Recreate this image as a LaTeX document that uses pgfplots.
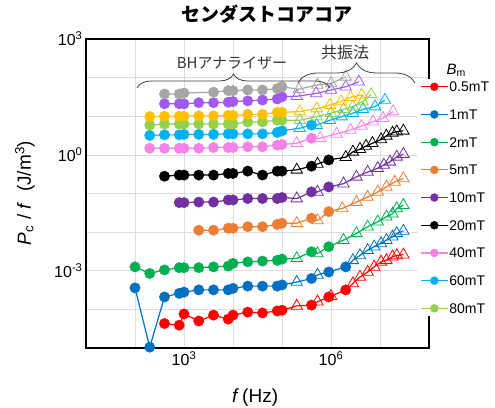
\documentclass[border=0pt]{standalone}
\usepackage{fontspec}
\setmainfont{Liberation Sans}
\newfontfamily\cjk{Noto Sans CJK JP}
\usepackage{pgfplots}
\pgfplotsset{compat=1.18}
\usetikzlibrary{decorations.pathreplacing}
\definecolor{cRed}{RGB}{255,0,0}
\definecolor{cBlue}{RGB}{0,112,192}
\definecolor{cGreen}{RGB}{0,176,80}
\definecolor{cOrange}{RGB}{237,125,49}
\definecolor{cPurple}{RGB}{112,48,160}
\definecolor{cBlack}{RGB}{0,0,0}
\definecolor{cPink}{RGB}{245,130,230}
\definecolor{cCyan}{RGB}{0,176,240}
\definecolor{cLgreen}{RGB}{146,208,80}
\definecolor{cGold}{RGB}{255,192,0}
\definecolor{cViolet}{RGB}{160,90,240}
\definecolor{cGray}{RGB}{166,166,166}
\pgfplotsset{
  ser/.style={color=#1, line width=1.2pt, forget plot, scatter, point meta=explicit symbolic,
    scatter/classes={
      c={mark=*, mark size=5.2pt, draw=#1, fill=#1, line width=0.4pt},
      t={mark=triangle, mark size=6.6pt, draw=#1, fill=white, line width=0.8pt}}},
  legimg/.style={color=#1, line width=1.2pt, mark=*, mark size=4pt, mark options={fill=#1, draw=#1, line width=0.4pt}},
}
\begin{document}
\begin{tikzpicture}
\path[use as bounding box] (-86pt,-59pt) rectangle (409pt,348pt);
\begin{axis}[at={(0pt,0pt)}, anchor=south west, scale only axis, width=343pt, height=309pt,
  xmode=log, ymode=log, xmin=10, xmax=1e8, ymin=1e-5, ymax=1e3,
  xtick={1e1,1e2,1e3,1e4,1e5,1e6,1e7,1e8},
  xticklabels={{},{},{10\textsuperscript{3}},{},{},{10\textsuperscript{6}},{},{}},
  ytick={1e-5,1e-4,1e-3,1e-2,1e-1,1e0,1e1,1e2,1e3},
  yticklabels={{},{},{10\textsuperscript{-3}},{},{},{10\textsuperscript{0}},{},{},{10\textsuperscript{3}}},
  xminorticks=false, yminorticks=false, major tick length=0pt,
  grid=major, major grid style={draw=black!13, line width=0.7pt},
  axis line style={line width=1.3pt},
  tick label style={font=\fontsize{16}{18}\selectfont},
  clip=false,
  title={センダストコアコア},
  title style={at={(axis description cs:0.528,1.061)}, anchor=center, font=\fontsize{19}{22}\selectfont\cjk\bfseries},
  xlabel={\textit{f}\,(Hz)},
  xlabel style={at={(axis description cs:0.493,-0.159)}, anchor=center, font=\fontsize{19}{22}\selectfont},
  ylabel={\textit{P}\textsubscript{c} / \textit{f}\ \ (J/m\textsuperscript{3})},
  ylabel style={at={(axis description cs:-0.178,0.502)}, anchor=center, font=\fontsize{19}{22}\selectfont},
  legend style={draw=none, fill=white, at={(axis description cs:0.968,0.872)}, anchor=north west,
    font=\fontsize{14}{16}\selectfont, inner sep=2pt, row sep=15.7pt,
    nodes={inner sep=1pt, text height=10pt, text depth=0pt}},
  legend cell align=left,
  legend image code/.code={\draw[mark repeat=2,mark phase=2,#1] plot coordinates {(0pt,0pt) (13.5pt,0pt) (27pt,0pt)};},
]
% 0.5 mT
\addplot[ser=cRed] table[meta=m] {
x y m
400 4.3e-5 c
800 3.9e-5 c
1000 7.6e-5 c
2000 5.0e-5 c
4000 7.1e-5 c
8000 5.6e-5 c
10000 7.1e-5 c
20000 8.5e-5 c
40000 8.1e-5 c
80000 9.1e-5 c
100000 9.5e-5 c
200000 1.23e-4 t
400000 1.29e-4 c
530000 1.58e-4 t
900000 2.1e-4 c
1000000 2.2e-4 t
2000000 3.2e-4 c
2800000 4.7e-4 t
3900000 6.9e-4 t
5600000 9.3e-4 t
7600000 1.26e-3 t
10500000 1.7e-3 t
13500000 1.86e-3 t
18000000 2.3e-3 t
22000000 2.5e-3 t
30000000 2.6e-3 t
};
% 1 mT
\addplot[ser=cBlue] table[meta=m] {
x y m
100 3.6e-4 c
200 1.05e-5 c
400 2.1e-4 c
800 2.6e-4 c
1000 2.8e-4 c
2000 3.2e-4 c
4000 3.2e-4 c
8000 3.2e-4 c
10000 3.5e-4 c
20000 4.0e-4 c
40000 4.0e-4 c
80000 4.0e-4 c
100000 4.3e-4 c
200000 5.1e-4 t
400000 6.3e-4 c
530000 7.8e-4 t
900000 9.3e-4 c
2000000 1.26e-3 c
2800000 1.86e-3 t
3900000 2.5e-3 t
5600000 3.4e-3 t
7600000 4.2e-3 t
10500000 5.1e-3 t
13500000 6.2e-3 t
18000000 7.6e-3 t
22000000 9.3e-3 t
30000000 1.07e-2 t
};
% 2 mT
\addplot[ser=cGreen] table[meta=m] {
x y m
100 1.26e-3 c
200 8.5e-4 c
400 1.05e-3 c
800 1.2e-3 c
1000 1.2e-3 c
2000 1.2e-3 c
4000 1.26e-3 c
8000 1.32e-3 c
10000 1.55e-3 c
20000 1.7e-3 c
40000 1.78e-3 c
80000 1.86e-3 c
100000 2.0e-3 c
200000 2.1e-3 t
400000 3.1e-3 c
530000 2.8e-3 t
900000 4.2e-3 c
1800000 6.2e-3 t
3300000 9.3e-3 t
5600000 1.38e-2 t
9000000 1.86e-2 t
13500000 2.5e-2 t
18000000 3.0e-2 t
22000000 4.1e-2 t
30000000 5.0e-2 t
};
% 5 mT
\addplot[ser=cOrange] table[meta=m] {
x y m
2000 1.12e-2 c
4000 1.12e-2 c
8000 1.26e-2 c
10000 1.26e-2 c
20000 1.38e-2 c
40000 1.38e-2 c
80000 1.58e-2 c
100000 1.7e-2 c
200000 1.7e-2 t
400000 2.3e-2 c
530000 2.0e-2 t
900000 3.4e-2 c
1700000 4.1e-2 t
3300000 6.0e-2 t
5600000 8.1e-2 t
9000000 0.11 t
13500000 0.148 t
20000000 0.20 t
30000000 0.245 t
};
% 10 mT
\addplot[ser=cPurple] table[meta=m] {
x y m
800 5.8e-2 c
1000 5.8e-2 c
2000 6.0e-2 c
4000 6.0e-2 c
8000 6.8e-2 c
10000 6.8e-2 c
20000 7.4e-2 c
40000 7.4e-2 c
80000 7.4e-2 c
100000 7.9e-2 c
200000 7.4e-2 t
400000 0.11 c
530000 0.11 t
900000 0.148 c
1800000 0.18 t
3300000 0.27 t
5600000 0.36 t
9000000 0.45 t
12000000 0.55 t
16000000 0.66 t
22000000 0.89 t
30000000 1.05 t
};
% 20 mT
\addplot[ser=cBlack] table[meta=m] {
x y m
400 0.28 c
800 0.30 c
1000 0.30 c
2000 0.30 c
4000 0.30 c
8000 0.33 c
10000 0.33 c
20000 0.38 c
40000 0.30 c
80000 0.38 c
100000 0.38 c
200000 0.41 t
400000 0.51 c
530000 0.58 t
900000 0.74 c
2000000 0.87 t
2800000 1.2 t
3900000 1.41 t
5200000 1.7 t
7000000 2.0 t
10500000 2.5 t
13500000 3.1 t
18000000 3.7 t
22000000 4.0 t
30000000 4.2 t
};
% 40 mT
\addplot[ser=cPink] table[meta=m] {
x y m
200 1.48 c
400 1.48 c
800 1.48 c
1000 1.48 c
2000 1.48 c
4000 1.55 c
8000 1.55 c
10000 1.55 c
20000 1.62 c
40000 1.62 c
80000 1.78 c
100000 1.86 c
200000 2.0 t
400000 2.7 c
600000 2.7 t
1300000 3.5 t
2500000 4.4 t
4200000 5.6 t
7200000 7.2 t
11500000 8.9 t
18500000 13.2 t
};
% 60 mT
\addplot[ser=cCyan] table[meta=m] {
x y m
200 3.2 c
400 3.3 c
800 3.3 c
1000 3.4 c
2000 3.4 c
4000 3.4 c
8000 3.5 c
10000 3.5 c
20000 3.5 c
40000 3.5 c
80000 3.8 c
100000 4.2 c
230000 4.9 t
400000 5.9 c
510000 5.9 t
950000 7.9 t
1660000 9.8 t
2800000 12 t
4500000 15.1 t
7900000 17.8 t
12600000 26.3 t
};
% 80 mT
\addplot[ser=cLgreen] table[meta=m] {
x y m
200 5.9 c
400 6.3 c
800 6.3 c
1000 6.3 c
2000 6.3 c
4000 6.3 c
8000 6.3 c
10000 6.3 c
20000 7.1 c
40000 7.1 c
80000 7.9 c
100000 7.9 c
230000 7.9 t
510000 9.8 t
1000000 12 t
1800000 15.1 t
2800000 17.8 t
4400000 24 t
6600000 37 t
};
% gold
\addplot[ser=cGold] table[meta=m] {
x y m
200 9.8 c
400 10 c
800 10 c
1000 10 c
2000 10.2 c
4000 10.2 c
8000 10.5 c
10000 10.5 c
20000 11.2 c
40000 11.2 c
80000 12.6 c
100000 12.6 c
230000 13.2 t
510000 15.8 t
950000 19.5 t
1600000 24 t
2500000 31 t
4200000 35.5 t
};
% violet
\addplot[ser=cViolet] table[meta=m] {
x y m
400 21 c
800 21 c
1000 21 c
2000 22.4 c
4000 22.4 c
8000 23 c
10000 24 c
20000 25 c
40000 26.3 c
80000 28 c
100000 32 c
200000 33 t
500000 39 t
1000000 48 t
2000000 58 t
3700000 78 t
};
% gray
\addplot[ser=cGray] table[meta=m] {
x y m
400 37.6 c
800 37.6 c
1000 40 c
4000 42 c
8000 46 c
10000 46 c
20000 48 c
40000 48 c
80000 52 c
100000 58 c
220000 50 t
530000 65 t
1000000 71 t
2000000 105 t
};
\addlegendimage{legimg=cRed}\addlegendentry{0.5mT}
\addlegendimage{legimg=cBlue}\addlegendentry{1mT}
\addlegendimage{legimg=cGreen}\addlegendentry{2mT}
\addlegendimage{legimg=cOrange}\addlegendentry{5mT}
\addlegendimage{legimg=cPurple}\addlegendentry{10mT}
\addlegendimage{legimg=cBlack}\addlegendentry{20mT}
\addlegendimage{legimg=cPink}\addlegendentry{40mT}
\addlegendimage{legimg=cCyan}\addlegendentry{60mT}
\addlegendimage{legimg=cLgreen}\addlegendentry{80mT}
\end{axis}
\node[anchor=west, font=\fontsize{15}{17}\selectfont] at (357pt,278pt) {\textit{B}\textsubscript{m}};
\draw[decorate, decoration={brace, amplitude=14pt}, line width=0.8pt, black!75] (51pt,260pt) -- (244pt,260pt);
\draw[decorate, decoration={brace, amplitude=20pt}, line width=0.8pt, black!75] (212pt,265pt) -- (329pt,265pt);
\node[font=\fontsize{15}{17}\selectfont\cjk, text=black!80] at (146pt,285pt) {BHアナライザー};
\node[font=\fontsize{16}{18}\selectfont\cjk, text=black!80] at (259pt,296pt) {共振法};
\end{tikzpicture}
\end{document}
